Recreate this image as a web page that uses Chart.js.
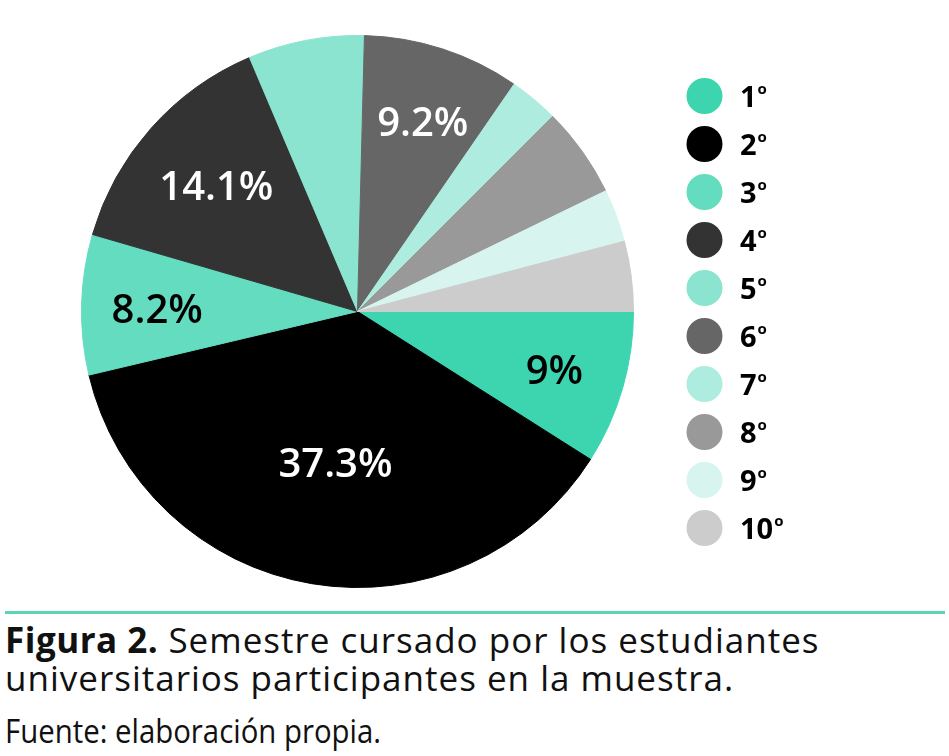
<!DOCTYPE html>
<html>
<head>
    <meta charset="utf-8">
    <title>Semestre cursado</title>
    <script src="https://cdn.jsdelivr.net/npm/chart.js@4.4.1/dist/chart.umd.min.js"></script>
    <style>
        body {
            margin: 0;
            background-color: white;
            font-family: "Open Sans", sans-serif;
            width: 949px;
            height: 756px;
            overflow: hidden;
            position: relative;
        }
        .chart-container {
            position: absolute;
            left: 0;
            top: 0;
            width: 949px;
            height: 600px;
        }
        .rule {
            position: absolute;
            left: 5px;
            top: 611px;
            width: 940px;
            height: 3px;
            background-color: #5ad3b7;
        }
        .caption {
            position: absolute;
            left: 5px;
            top: 621px;
            font-size: 35px;
            line-height: 38px;
            letter-spacing: 1px;
            color: #111;
            white-space: nowrap;
        }
        .caption b {
            font-weight: 700;
            letter-spacing: 0.5px;
        }
        .source {
            position: absolute;
            left: 5px;
            top: 711px;
            font-size: 33px;
            line-height: 40px;
            color: #111;
            white-space: nowrap;
            transform: scaleX(0.89);
            transform-origin: left top;
        }
    </style>
</head>
<body>
    <div class="chart-container">
        <canvas id="pieChart"></canvas>
    </div>
    <div class="rule"></div>
    <div class="caption"><b>Figura 2.</b> Semestre cursado por los estudiantes<br>universitarios participantes en la muestra.</div>
    <div class="source">Fuente: elaboración propia.</div>

    <script>
    // semestres y porcentajes (los pequeños sin etiqueta se estiman del dibujo)
    const semestres = ['1º', '2º', '3º', '4º', '5º', '6º', '7º', '8º', '9º', '10º'];
    const porcentajes = [9, 37.3, 8.2, 14.1, 6.8, 9.2, 2.9, 5.3, 3.1, 4.1];
    const colores = ['#3dd4b0', '#000000', '#64dcc0', '#333333', '#8ae4cf',
                     '#666666', '#aeecdf', '#999999', '#d8f4ee', '#cccccc'];

    // solo se rotulan los sectores grandes
    const minEtiqueta = 8;

    function esOscuro(hex) {
        const r = parseInt(hex.substr(1, 2), 16);
        const g = parseInt(hex.substr(3, 2), 16);
        const b = parseInt(hex.substr(5, 2), 16);
        return (0.299 * r + 0.587 * g + 0.114 * b) < 140;
    }

    const etiquetasPlugin = {
        id: 'etiquetas',
        afterDatasetsDraw(chart) {
            const ctx = chart.ctx;
            const meta = chart.getDatasetMeta(0);
            ctx.save();
            ctx.font = '600 40px "Open Sans", sans-serif';
            ctx.textAlign = 'center';
            ctx.textBaseline = 'middle';
            meta.data.forEach((arc, i) => {
                const v = porcentajes[i];
                if (v < minEtiqueta) return;
                const p = arc.getProps(['x', 'y', 'startAngle', 'endAngle', 'outerRadius'], true);
                const mid = (p.startAngle + p.endAngle) / 2;
                // los sectores grandes llevan el texto más hacia el centro
                const r = p.outerRadius * (0.79 - 0.0065 * v);
                ctx.fillStyle = esOscuro(colores[i]) ? '#ffffff' : '#000000';
                ctx.fillText(v + '%', p.x + Math.cos(mid) * r + 3, p.y + Math.sin(mid) * r + 5);
            });
            ctx.restore();
        }
    };

    const leyendaPlugin = {
        id: 'leyenda',
        afterDraw(chart) {
            const ctx = chart.ctx;
            const x0 = 704.5, y0 = 96, paso = 48, radio = 18;
            ctx.save();
            semestres.forEach((s, i) => {
                const y = y0 + i * paso;
                ctx.beginPath();
                ctx.arc(x0, y, radio, 0, Math.PI * 2);
                ctx.fillStyle = colores[i];
                ctx.fill();

                // número y ordinal volado
                const num = s.replace('º', '');
                ctx.fillStyle = '#000000';
                ctx.textAlign = 'left';
                ctx.textBaseline = 'alphabetic';
                ctx.font = '700 29px "Open Sans", sans-serif';
                ctx.fillText(num, 740, y + 10.5);
                const w = ctx.measureText(num).width;
                ctx.font = '700 15px "Open Sans", sans-serif';
                ctx.fillText('o', 740 + w + 1, y - 2);
            });
            ctx.restore();
        }
    };

    const ctx = document.getElementById('pieChart').getContext('2d');
    const chart = new Chart(ctx, {
        type: 'pie',
        data: {
            labels: semestres,
            datasets: [{
                data: porcentajes,
                backgroundColor: colores,
                borderColor: colores,
                borderWidth: 1,
                hoverOffset: 0
            }]
        },
        options: {
            responsive: true,
            maintainAspectRatio: false,
            rotation: 90,
            animation: false,
            layout: {
                padding: { left: 81, right: 315, top: 35, bottom: 12 }
            },
            plugins: {
                legend: { display: false },
                tooltip: { enabled: false }
            }
        },
        plugins: [etiquetasPlugin, leyendaPlugin]
    });
    </script>
</body>
</html>
